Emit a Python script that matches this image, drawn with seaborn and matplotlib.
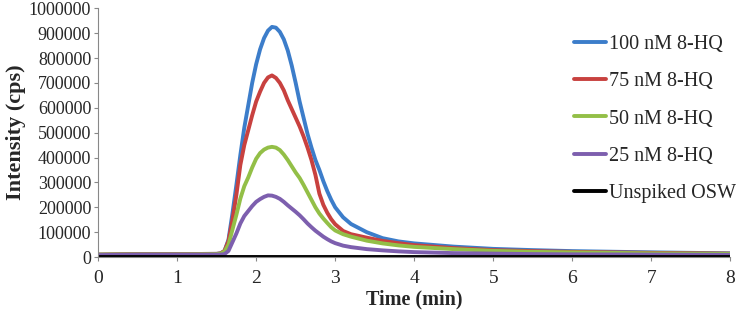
import numpy as np
import pandas as pd
import matplotlib
matplotlib.use("Agg")
import matplotlib.pyplot as plt
import seaborn as sns

sns.set_style("white")
plt.rcParams['font.family'] = ['Liberation Serif', 'DejaVu Serif']

# 時間 (min)
time_min = [0, 0.5, 1.0,
            1.5, 1.55, 1.6, 1.65, 1.7, 1.75, 1.8, 1.85, 1.9, 1.95, 2.0,
            2.05, 2.1, 2.15, 2.2, 2.25, 2.3, 2.35, 2.4, 2.45, 2.5,
            2.55, 2.6, 2.65, 2.7, 2.75, 2.8, 2.85, 2.9, 2.95, 3.0,
            3.1, 3.2, 3.4, 3.6, 3.8, 4.0, 4.5, 5.0, 5.5, 6.0, 7.0, 8.0]

# 各濃度的訊號強度 (cps)
hq_100 = [10000, 12000, 12000,
          13000, 15000, 25000, 70000, 175000, 290000, 410000, 520000, 610000, 700000, 775000,
          835000, 880000, 910000, 925000, 922000, 905000, 875000, 830000, 770000, 700000,
          625000, 560000, 495000, 440000, 390000, 350000, 305000, 265000, 230000, 200000,
          160000, 133000, 100000, 76000, 63000, 55000, 42000, 33000, 28000, 24000, 19000, 15000]
hq_75 = [10000, 12000, 12000,
         13000, 15000, 25000, 65000, 150000, 250000, 370000, 450000, 510000, 570000, 625000,
         665000, 700000, 722000, 730000, 720000, 700000, 670000, 630000, 595000, 560000,
         525000, 485000, 440000, 390000, 330000, 255000, 210000, 178000, 152000, 132000,
         105000, 92000, 78000, 65000, 56000, 48000, 36000, 28000, 24000, 21000, 17000, 14000]
hq_50 = [10000, 11000, 11000,
         12000, 14000, 22000, 50000, 110000, 170000, 235000, 285000, 320000, 360000, 395000,
         418000, 432000, 440000, 443000, 440000, 430000, 412000, 390000, 365000, 340000,
         318000, 290000, 260000, 230000, 200000, 175000, 155000, 137000, 120000, 107000,
         92000, 82000, 66000, 55000, 47000, 41000, 32000, 25000, 21000, 19000, 15000, 13000]
hq_25 = [8000, 10000, 10000,
         10000, 10000, 12000, 25000, 60000, 95000, 135000, 165000, 185000, 205000, 222000,
         233000, 242000, 248000, 247000, 242000, 234000, 222000, 208000, 195000, 182000,
         168000, 152000, 135000, 120000, 106000, 94000, 82000, 72000, 63000, 56000,
         46000, 40000, 32000, 27000, 23000, 20000, 16000, 14000, 12000, 11000, 10000, 9000]
unspiked = [1500] * len(time_min)

labels = ["100 nM 8-HQ", "75 nM 8-HQ", "50 nM 8-HQ", "25 nM 8-HQ", "Unspiked OSW"]
colors = ["#3C7DCA", "#C8413F", "#93BF47", "#7D5FAE", "#000000"]

frames = []
for lab, vals in zip(labels, [hq_100, hq_75, hq_50, hq_25, unspiked]):
    frames.append(pd.DataFrame({"time": time_min, "intensity": vals, "sample": lab}))
df = pd.concat(frames, ignore_index=True)

fig = plt.figure(figsize=(7.43, 3.17), dpi=100)
ax = fig.add_axes([0.132, 0.189, 0.851, 0.785])
sns.lineplot(data=df, x="time", y="intensity", hue="sample", hue_order=labels,
             palette=colors, linewidth=2.8, ax=ax)

ax.set_xlim(0, 8)
ax.set_ylim(0, 1000000)
ax.set_xticks(range(0, 9))
ax.set_yticks(np.arange(0, 1000001, 100000))
ax.set_yticklabels([str(v) for v in range(0, 1000001, 100000)])
ax.tick_params(axis='both', labelsize=13, length=3, color="#888888", pad=2)
ax.tick_params(axis='x', bottom=True, pad=6, labelsize=14)
ax.tick_params(axis='y', left=True)
ax.set_xlabel("Time (min)", fontsize=14.5, fontweight='bold', labelpad=2)
ax.set_ylabel("Intensity (cps)", fontsize=16, fontweight='bold', labelpad=2)
sns.despine(ax=ax)
for s in ["left", "bottom"]:
    ax.spines[s].set_color("#888888")

ax.legend(loc="upper right", bbox_to_anchor=(1.022, 0.925), frameon=False, fontsize=14.5,
          handlelength=1.6, handletextpad=0.15, labelspacing=0.9, borderaxespad=0)

fig.savefig("out.png", dpi=100)
